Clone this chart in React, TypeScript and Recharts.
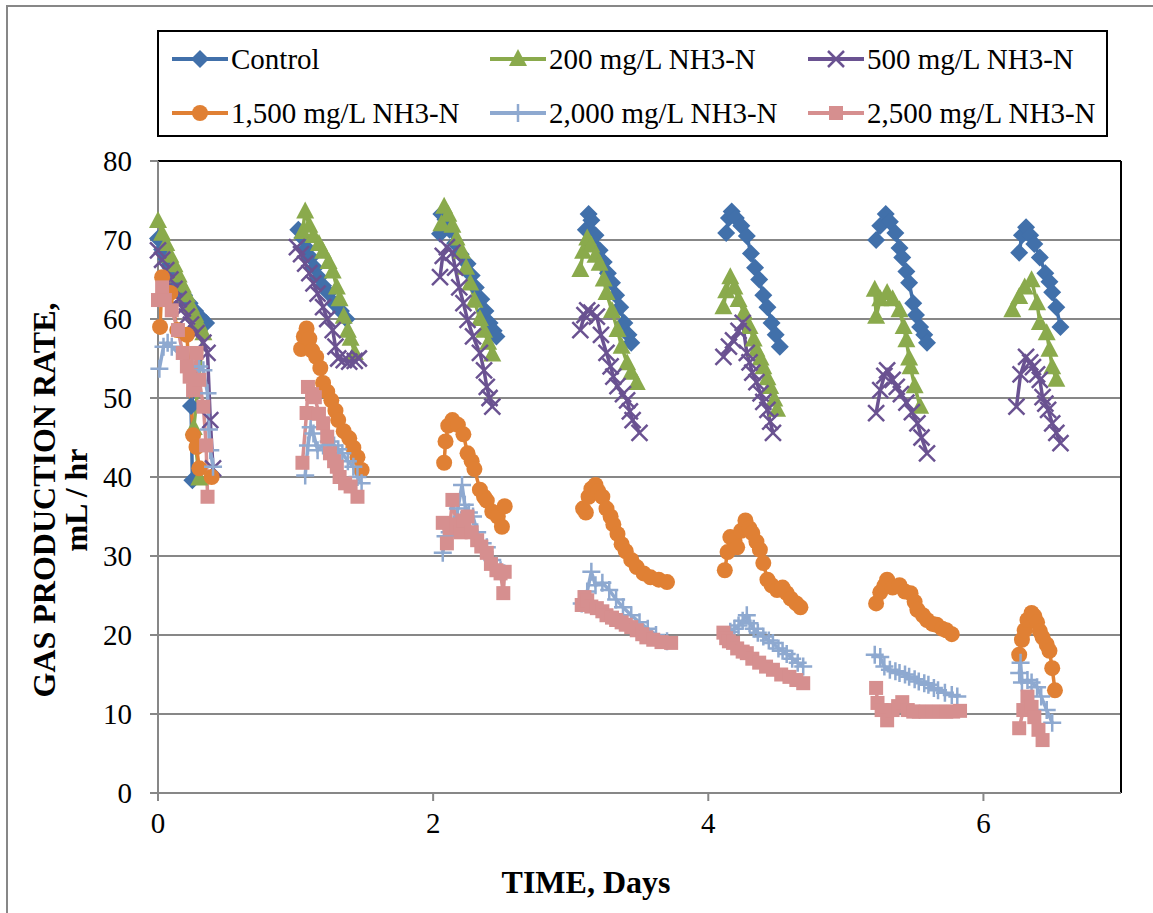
import { LineChart, Line, XAxis, YAxis, CartesianGrid, ReferenceLine } from "recharts";

// each series: list of feeding cycles, each cycle = [day, mL/hr] pairs in recorded order
const controlRuns: number[][][] = [
  [[0, 70.2], [0.03, 68.8], [0.06, 67.6], [0.09, 66.5], [0.12, 65.3], [0.15, 64.2], [0.19, 63], [0.23, 62], [0.27, 61], [0.31, 60.2], [0.35, 59.5], [0.24, 49], [0.25, 39.6]],
  [[1.02, 71.3], [1.05, 70.3], [1.08, 69], [1.11, 67.8], [1.14, 66.5], [1.17, 65.3], [1.2, 64.2], [1.24, 63.3], [1.28, 62], [1.33, 61], [1.37, 60]],
  [[2.05, 70.8], [2.06, 73.3], [2.09, 72.6], [2.12, 71.3], [2.16, 69.6], [2.2, 68.2], [2.25, 67], [2.28, 65.5], [2.31, 64], [2.35, 62.5], [2.38, 61], [2.41, 59.5], [2.44, 58.5], [2.46, 57.8]],
  [[3.11, 71.3], [3.13, 73.3], [3.15, 72.5], [3.18, 70.6], [3.21, 68.7], [3.24, 67.2], [3.27, 65.8], [3.3, 64.6], [3.33, 63], [3.36, 61.5], [3.39, 59.5], [3.42, 58], [3.44, 57]],
  [[4.13, 70.9], [4.15, 72.8], [4.17, 73.6], [4.2, 72.8], [4.24, 71.8], [4.28, 70.5], [4.31, 68.3], [4.34, 66.5], [4.37, 65], [4.4, 63], [4.43, 61.5], [4.46, 59.5], [4.49, 58], [4.52, 56.5]],
  [[5.22, 70], [5.25, 71.8], [5.29, 73.3], [5.32, 72.3], [5.36, 70.9], [5.39, 69], [5.41, 67.8], [5.44, 66], [5.46, 64.6], [5.49, 62], [5.51, 60.5], [5.54, 59], [5.57, 58], [5.59, 57]],
  [[6.26, 68.4], [6.28, 70.6], [6.31, 71.6], [6.34, 70.6], [6.37, 69.5], [6.41, 67.8], [6.45, 65.8], [6.48, 64.7], [6.5, 63.4], [6.53, 61.5], [6.56, 59]],
];

const n200Runs: number[][][] = [
  [[0, 72.4], [0.03, 70.8], [0.06, 69.5], [0.09, 68], [0.12, 66.8], [0.15, 65.5], [0.18, 64.2], [0.21, 63], [0.24, 61.6], [0.27, 60.5], [0.3, 59.3], [0.33, 58.2], [0.26, 46.2], [0.3, 39.8]],
  [[1.05, 71], [1.07, 73.6], [1.1, 71.8], [1.13, 70.5], [1.17, 69.5], [1.2, 68.5], [1.24, 67.2], [1.27, 66], [1.3, 64], [1.32, 62.5], [1.35, 60.3], [1.38, 58.5], [1.4, 57.5], [1.43, 55.7]],
  [[2.06, 72], [2.08, 74.2], [2.11, 73.2], [2.14, 71.8], [2.17, 70.2], [2.21, 68.5], [2.24, 66.5], [2.27, 64.5], [2.3, 62.3], [2.34, 60], [2.37, 58.5], [2.4, 57], [2.43, 55.5]],
  [[3.07, 66.2], [3.09, 68.5], [3.12, 70.2], [3.15, 69.3], [3.18, 68], [3.21, 67], [3.24, 65], [3.26, 63.3], [3.3, 61], [3.34, 58.6], [3.37, 56.5], [3.41, 54.4], [3.44, 53.2], [3.48, 51.9]],
  [[4.11, 61.5], [4.13, 63.5], [4.16, 65.3], [4.19, 64], [4.22, 62.4], [4.26, 60.8], [4.3, 59], [4.33, 57.4], [4.35, 56.1], [4.38, 55], [4.4, 53.9], [4.43, 52.5], [4.45, 51.4], [4.48, 49.8], [4.5, 48.5]],
  [[5.21, 63.7], [5.22, 60.3], [5.25, 62.5], [5.3, 63.3], [5.34, 62.5], [5.39, 61.1], [5.42, 59], [5.44, 57.3], [5.46, 55], [5.47, 53.9], [5.5, 51.5], [5.54, 48.9]],
  [[6.21, 61.1], [6.26, 62.8], [6.3, 64], [6.35, 64.9], [6.39, 62], [6.41, 59.5], [6.46, 58.2], [6.48, 56.1], [6.5, 53.9], [6.53, 52.3]],
];

const n500Runs: number[][][] = [
  [[0, 68.7], [0.03, 67.5], [0.06, 66.2], [0.09, 65], [0.12, 63.8], [0.15, 62.5], [0.18, 61.3], [0.21, 60.3], [0.24, 59.3], [0.28, 58.2], [0.33, 57], [0.36, 55.7], [0.38, 47.2], [0.4, 41.1]],
  [[1.01, 69.1], [1.04, 68.2], [1.07, 67], [1.1, 65.8], [1.13, 64.5], [1.16, 63.2], [1.2, 61.5], [1.23, 60], [1.27, 58.6], [1.29, 56.5], [1.31, 55], [1.35, 54.8], [1.39, 54.6], [1.43, 54.7], [1.46, 55]],
  [[2.05, 65.3], [2.07, 68], [2.1, 69.1], [2.14, 68.4], [2.16, 66.5], [2.19, 64], [2.22, 62], [2.25, 59.9], [2.29, 57.8], [2.34, 55.7], [2.37, 53.5], [2.39, 51.4], [2.41, 50], [2.43, 48.9]],
  [[3.07, 58.6], [3.1, 60.5], [3.12, 61.1], [3.15, 60.8], [3.19, 60.3], [3.22, 58], [3.26, 55.7], [3.29, 54], [3.31, 52.7], [3.34, 51.5], [3.38, 50.5], [3.41, 49.7], [3.43, 48.3], [3.45, 47.2], [3.5, 45.6]],
  [[4.11, 55.2], [4.15, 56.5], [4.18, 57.3], [4.22, 58.5], [4.25, 59.5], [4.28, 55.7], [4.3, 54.5], [4.32, 53.2], [4.35, 52], [4.38, 50.6], [4.4, 49.5], [4.43, 48.5], [4.45, 47], [4.47, 45.6]],
  [[5.22, 48.1], [5.25, 51], [5.28, 52.8], [5.3, 53.5], [5.34, 52.3], [5.37, 51.4], [5.4, 50.5], [5.44, 49.4], [5.48, 48.2], [5.52, 46.8], [5.55, 45], [5.59, 43]],
  [[6.24, 48.9], [6.27, 53], [6.31, 55.2], [6.34, 54.5], [6.36, 53.9], [6.39, 53], [6.41, 52.3], [6.43, 50.1], [6.45, 49.3], [6.47, 48.5], [6.5, 46.8], [6.53, 45.6], [6.56, 44.3]],
];

const n1500Runs: number[][][] = [
  [[0.015, 59], [0.03, 65.3], [0.09, 63.3], [0.14, 58.6], [0.21, 58], [0.255, 45.3], [0.28, 43.8], [0.3, 41.1], [0.39, 40]],
  [[1.04, 56.2], [1.06, 57.8], [1.08, 58.8], [1.1, 57.5], [1.12, 56], [1.15, 55.2], [1.18, 53.8], [1.2, 51.9], [1.23, 50.8], [1.26, 49.7], [1.29, 48.4], [1.31, 47.2], [1.35, 45.8], [1.39, 44.9], [1.42, 43.7], [1.45, 42.5], [1.48, 40.9]],
  [[2.08, 41.8], [2.09, 44.5], [2.11, 46.5], [2.14, 47.2], [2.18, 46.6], [2.22, 45.4], [2.25, 43], [2.28, 42], [2.3, 41], [2.34, 38.4], [2.37, 37.5], [2.39, 37], [2.43, 35.6], [2.47, 35], [2.5, 33.7], [2.52, 36.3]],
  [[3.09, 36], [3.11, 35.5], [3.13, 37.5], [3.15, 38.5], [3.18, 39], [3.2, 38.2], [3.23, 37.5], [3.26, 36], [3.29, 35], [3.31, 34], [3.34, 32.8], [3.37, 31.5], [3.4, 30.6], [3.44, 29.5], [3.48, 28.6], [3.53, 27.8], [3.58, 27.3], [3.64, 27], [3.7, 26.7]],
  [[4.12, 28.2], [4.14, 30.5], [4.16, 32.4], [4.19, 32], [4.21, 31.1], [4.24, 33.2], [4.27, 34.5], [4.3, 33.5], [4.32, 32.9], [4.35, 31.8], [4.375, 30.8], [4.4, 29.1], [4.43, 27], [4.46, 26.3], [4.5, 25.7], [4.54, 26], [4.57, 25.3], [4.6, 24.6], [4.64, 24], [4.67, 23.5]],
  [[5.22, 24], [5.25, 25.4], [5.28, 26.2], [5.3, 27], [5.34, 26], [5.39, 26.3], [5.43, 25.5], [5.47, 25.3], [5.5, 24.2], [5.52, 23.2], [5.56, 22.5], [5.59, 21.9], [5.63, 21.4], [5.66, 21.3], [5.7, 20.8], [5.73, 20.6], [5.77, 20.1]],
  [[6.26, 17.5], [6.28, 19.4], [6.3, 20.6], [6.32, 21.9], [6.35, 22.8], [6.37, 22.4], [6.39, 21.6], [6.41, 20.5], [6.43, 19.7], [6.46, 18.8], [6.48, 18], [6.5, 15.8], [6.52, 13]],
];

const n2000Runs: number[][][] = [
  [[0.01, 53.7], [0.04, 56.5], [0.07, 57], [0.1, 56.5], [0.25, 54], [0.3, 54], [0.33, 53.5], [0.36, 50.6], [0.37, 46], [0.38, 43.4], [0.4, 41.3]],
  [[1.07, 40.2], [1.09, 44], [1.11, 46.3], [1.13, 45.5], [1.16, 43.4], [1.2, 44], [1.24, 44.5], [1.28, 44], [1.31, 43.5], [1.34, 43], [1.38, 42], [1.42, 41.3], [1.45, 40], [1.48, 39.2]],
  [[2.07, 30.4], [2.09, 32.5], [2.12, 33], [2.15, 34], [2.18, 36], [2.21, 39], [2.23, 36.5], [2.26, 35.5], [2.29, 35], [2.32, 33], [2.36, 31.6], [2.39, 31.1], [2.43, 29.5], [2.46, 28.8], [2.49, 28.2]],
  [[3.08, 24], [3.12, 25.5], [3.15, 28], [3.18, 26.3], [3.23, 26.6], [3.28, 25.7], [3.33, 24.5], [3.38, 23.5], [3.44, 22.5], [3.5, 21.6], [3.56, 20.8], [3.62, 20], [3.7, 19.2]],
  [[4.13, 20], [4.16, 20.4], [4.19, 20.8], [4.22, 21.2], [4.25, 21.8], [4.28, 22.5], [4.3, 21.5], [4.33, 20.8], [4.36, 20.3], [4.4, 19.8], [4.44, 19.3], [4.47, 19], [4.51, 18.3], [4.54, 18], [4.57, 17.6], [4.61, 17], [4.65, 16.5], [4.69, 16]],
  [[5.21, 17.5], [5.25, 17.2], [5.28, 16], [5.32, 15.6], [5.36, 15.4], [5.39, 15.2], [5.43, 15], [5.46, 14.7], [5.5, 14.4], [5.53, 14.1], [5.57, 13.9], [5.6, 13.7], [5.64, 13.3], [5.67, 13], [5.72, 12.7], [5.77, 12.4], [5.81, 12.2]],
  [[6.26, 15.2], [6.27, 16.5], [6.28, 14], [6.32, 14.3], [6.35, 14], [6.39, 13.4], [6.42, 12.2], [6.46, 10.5], [6.5, 8.9]],
];

const n2500Runs: number[][][] = [
  [[0, 62.4], [0.03, 64], [0.05, 62.4], [0.1, 61.1], [0.145, 58.6], [0.18, 55.7], [0.21, 54], [0.23, 52.7], [0.255, 51], [0.28, 55.7], [0.3, 52.3], [0.33, 48.9], [0.35, 44], [0.36, 37.5]],
  [[1.05, 41.8], [1.08, 48.1], [1.09, 51.4], [1.12, 50.5], [1.14, 50.1], [1.17, 48], [1.2, 46.8], [1.23, 45.1], [1.25, 43], [1.28, 42], [1.3, 41.3], [1.32, 40], [1.36, 39.2], [1.4, 38.8], [1.45, 37.5]],
  [[2.07, 34.2], [2.1, 31.6], [2.12, 33.5], [2.14, 37.1], [2.17, 34], [2.2, 33], [2.22, 34.5], [2.25, 35], [2.28, 33], [2.32, 32], [2.35, 31.2], [2.39, 30.4], [2.42, 29], [2.46, 28.2], [2.49, 27.8], [2.51, 25.3], [2.52, 28]],
  [[3.08, 23.8], [3.1, 24.8], [3.12, 24.4], [3.15, 23.6], [3.19, 23.4], [3.23, 23], [3.26, 22.5], [3.3, 22.2], [3.33, 21.9], [3.37, 21.6], [3.4, 21.3], [3.44, 21], [3.48, 20.6], [3.52, 20.1], [3.55, 19.7], [3.6, 19.4], [3.66, 19.1], [3.73, 19]],
  [[4.11, 20.3], [4.13, 19.6], [4.15, 19.2], [4.18, 19], [4.21, 18.3], [4.25, 17.9], [4.28, 17.7], [4.32, 17], [4.37, 16.5], [4.42, 16], [4.47, 15.6], [4.53, 15], [4.59, 14.7], [4.64, 14.3], [4.69, 13.9]],
  [[5.22, 13.3], [5.23, 11.4], [5.26, 10.5], [5.3, 9.2], [5.34, 10.5], [5.38, 11], [5.41, 11.5], [5.45, 10.5], [5.49, 10.3], [5.53, 10.3], [5.58, 10.3], [5.63, 10.3], [5.68, 10.3], [5.73, 10.3], [5.78, 10.3], [5.83, 10.4]],
  [[6.26, 8.2], [6.29, 10.5], [6.32, 12.2], [6.35, 10.9], [6.37, 9.6], [6.4, 8], [6.43, 6.7]],
];

const xTicks = [0, 2, 4, 6];
const yTicks = [0, 10, 20, 30, 40, 50, 60, 70, 80];

const FONT = '"Liberation Serif", "Times New Roman", serif';
const AXIS_GRAY = "#878787";

type Shape = "diamond" | "triangle" | "x" | "circle" | "plus" | "square";

const series: { name: string; runs: number[][][]; color: string; shape: Shape }[] = [
  { name: "Control", runs: controlRuns, color: "#4170AA", shape: "diamond" },
  { name: "200 mg/L NH3-N", runs: n200Runs, color: "#8AAA4C", shape: "triangle" },
  { name: "500 mg/L NH3-N", runs: n500Runs, color: "#6A5291", shape: "x" },
  { name: "1,500 mg/L NH3-N", runs: n1500Runs, color: "#E08034", shape: "circle" },
  { name: "2,000 mg/L NH3-N", runs: n2000Runs, color: "#8EA9D0", shape: "plus" },
  { name: "2,500 mg/L NH3-N", runs: n2500Runs, color: "#D68F8F", shape: "square" },
];

// flatten cycles, putting a null row between them so the line breaks
function toRows(runs: number[][][]) {
  const rows: { t: number; v: number | null }[] = [];
  runs.forEach((run, i) => {
    if (i > 0) {
      const prev = runs[i - 1][runs[i - 1].length - 1][0];
      rows.push({ t: (prev + run[0][0]) / 2, v: null });
    }
    run.forEach(([t, v]) => rows.push({ t, v }));
  });
  return rows;
}

function Marker({ shape, cx, cy, color }: { shape: Shape; cx: number; cy: number; color: string }) {
  switch (shape) {
    case "diamond":
      return <path d={`M${cx},${cy - 9}L${cx + 9},${cy}L${cx},${cy + 9}L${cx - 9},${cy}Z`} fill={color} />;
    case "triangle":
      return <path d={`M${cx},${cy - 10}L${cx + 9},${cy + 7}L${cx - 9},${cy + 7}Z`} fill={color} />;
    case "x":
      return (
        <path
          d={`M${cx - 8},${cy - 8}L${cx + 8},${cy + 8}M${cx + 8},${cy - 8}L${cx - 8},${cy + 8}`}
          stroke={color}
          strokeWidth={2.5}
          fill="none"
        />
      );
    case "circle":
      return <circle cx={cx} cy={cy} r={8} fill={color} />;
    case "plus":
      return (
        <path
          d={`M${cx - 9},${cy}L${cx + 9},${cy}M${cx},${cy - 9}L${cx},${cy + 9}`}
          stroke={color}
          strokeWidth={2.5}
          fill="none"
        />
      );
    default:
      return <rect x={cx - 7} y={cy - 7} width={14} height={14} fill={color} />;
  }
}

function XTick({ x, y, payload }: any) {
  return (
    <text x={x} y={y} dy={20} textAnchor="middle" fontFamily={FONT} fontSize={29} fill="#000">
      {payload.value}
    </text>
  );
}

function YTick({ x, y, payload }: any) {
  return (
    <text x={x} y={y} dy={10} textAnchor="end" fontFamily={FONT} fontSize={29} fill="#000">
      {payload.value}
    </text>
  );
}

function YTitle() {
  return (
    <g fontFamily={FONT} fontSize={32} fontWeight="bold" fill="#000" textAnchor="middle">
      <text transform="translate(55,500) rotate(-90)">GAS PRODUCTION RATE,</text>
      <text transform="translate(87,500) rotate(-90)">mL / hr</text>
    </g>
  );
}

function XTitle() {
  return (
    <text x={586} y={893} fontFamily={FONT} fontSize={32} fontWeight="bold" fill="#000" textAnchor="middle">
      TIME, Days
    </text>
  );
}

function LegendBox() {
  const cols = [13, 331, 649];
  const rows = [27, 81];
  return (
    <svg
      width={951}
      height={107}
      style={{ position: "absolute", left: 157, top: 30, border: "2px solid #000", boxSizing: "border-box", background: "#fff" }}
    >
      {series.map((s, i) => {
        const x = cols[i % 3];
        const y = rows[Math.floor(i / 3)];
        return (
          <g key={s.name}>
            <line x1={x} y1={y} x2={x + 56} y2={y} stroke={s.color} strokeWidth={4} />
            <Marker shape={s.shape} cx={x + 28} cy={y} color={s.color} />
            <text x={x + 59} y={y} dy={10} fontFamily={FONT} fontSize={29} fill="#000">
              {s.name}
            </text>
          </g>
        );
      })}
    </svg>
  );
}

export default function App() {
  return (
    <div style={{ position: "absolute", left: 0, top: 0, width: 1153, height: 913, background: "#fff", overflow: "hidden" }}>
      <div
        style={{
          position: "absolute",
          left: 6,
          top: 5,
          width: 1170,
          height: 930,
          border: `2px solid ${AXIS_GRAY}`,
        }}
      />
      <div style={{ position: "absolute", left: 0, top: 0 }}>
        <LineChart width={1153} height={913} margin={{ top: 161, right: 32, bottom: 0, left: 0 }}>
          <CartesianGrid vertical={false} stroke={AXIS_GRAY} strokeWidth={2} />
          <XAxis
            type="number"
            dataKey="t"
            domain={[0, 7]}
            ticks={xTicks}
            height={120}
            stroke={AXIS_GRAY}
            strokeWidth={2}
            tickSize={8}
            tickMargin={12}
            tick={<XTick />}
            label={{ content: () => <XTitle /> }}
          />
          <YAxis
            type="number"
            domain={[0, 80]}
            ticks={yTicks}
            width={158}
            stroke={AXIS_GRAY}
            strokeWidth={2}
            tickSize={8}
            tickMargin={18}
            tick={<YTick />}
            label={{ content: () => <YTitle /> }}
          />
          <ReferenceLine y={80} stroke="#000" strokeWidth={2} />
          <ReferenceLine x={7} stroke="#000" strokeWidth={2} />
          {series.map((s) => (
            <Line
              key={s.name}
              data={toRows(s.runs)}
              dataKey="v"
              type="linear"
              stroke={s.color}
              strokeWidth={3.5}
              connectNulls={false}
              isAnimationActive={false}
              dot={(p: any) =>
                p.cy == null || p.value == null ? (
                  <g key={`${s.name}-${p.index}`} />
                ) : (
                  <Marker key={`${s.name}-${p.index}`} shape={s.shape} cx={p.cx} cy={p.cy} color={s.color} />
                )
              }
            />
          ))}
        </LineChart>
      </div>
      <LegendBox />
    </div>
  );
}
